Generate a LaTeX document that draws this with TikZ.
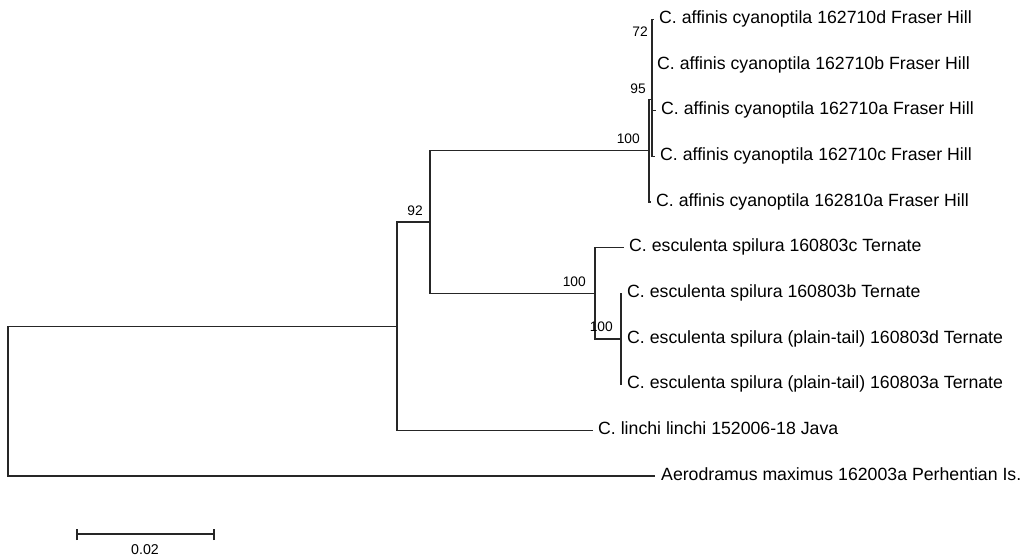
\documentclass[tikz,border=0pt]{standalone}
\usepackage{fontspec}
\newfontfamily\lsans{Liberation Sans}
\begin{document}
\begin{tikzpicture}[x=1pt,y=-1pt,
  branch/.style={line width=1.25pt,draw=black!85},
  leaf/.style={anchor=base west,inner sep=0pt,font=\lsans\fontsize{17.7pt}{20pt}\selectfont},
  boot/.style={anchor=base east,inner sep=0pt,font=\lsans\fontsize{13.8pt}{16pt}\selectfont},
  scalelbl/.style={anchor=base,inner sep=0pt,font=\lsans\fontsize{14.2pt}{16pt}\selectfont}]
\useasboundingbox (0,0) rectangle (1031,556);
% tips
\coordinate (tD) at (654,19.5);
\coordinate (tB) at (652,65.2);
\coordinate (tA) at (656,110.8);
\coordinate (tC) at (655,156.5);
\coordinate (tE) at (651,202.1);
\coordinate (sC) at (624,247.8);
\coordinate (sB) at (622,293.4);
\coordinate (sD) at (622,339.1);
\coordinate (sA) at (622,384.7);
\coordinate (tL) at (593,430.4);
\coordinate (tX) at (655,476);
% internal nodes
\coordinate (n72) at (652,42.3);
\coordinate (n95) at (652,99.4);
\coordinate (n100a) at (649,150.8);
\coordinate (n100c) at (621,339.1);
\coordinate (n100b) at (595,293.4);
\coordinate (nA) at (430,222.1);
\coordinate (n92) at (397,326.2);
\coordinate (root) at (8,401);
% branches
\draw[branch] (root) |- (n92);
\draw[branch] (root) |- (tX);
\draw[branch] (n92) |- (nA);
\draw[branch] (n92) |- (tL);
\draw[branch] (nA) |- (n100a);
\draw[branch] (nA) |- (n100b);
\draw[branch] (n100a) |- (n95);
\draw[branch] (n100a) |- (tE);
\draw[branch] (n95) |- (n72);
\draw[branch] (n95) |- (tA);
\draw[branch] (n95) |- (tC);
\draw[branch] (n72) |- (tD);
\draw[branch] (n72) |- (tB);
\draw[branch] (n100b) |- (sC);
\draw[branch] (n100b) |- (n100c);
\draw[branch] (n100c) |- (sB);
\draw[branch] (n100c) |- (sD);
\draw[branch] (n100c) |- (sA);
% leaf labels
\node[leaf] (lD) at (659,23.5) {C. affinis cyanoptila 162710d Fraser Hill};
\node[leaf] (lB) at (657,69.2) {C. affinis cyanoptila 162710b Fraser Hill};
\node[leaf] (lA) at (661,114.8) {C. affinis cyanoptila 162710a Fraser Hill};
\node[leaf] (lC) at (660,160.5) {C. affinis cyanoptila 162710c Fraser Hill};
\node[leaf] (lE) at (656,206.1) {C. affinis cyanoptila 162810a Fraser Hill};
\node[leaf] (mC) at (629,251.8) {C. esculenta spilura 160803c Ternate};
\node[leaf] (mB) at (627,297.4) {C. esculenta spilura 160803b Ternate};
\node[leaf] (mD) at (627,343.1) {C. esculenta spilura (plain-tail) 160803d Ternate};
\node[leaf] (mA) at (627,388.7) {C. esculenta spilura (plain-tail) 160803a Ternate};
\node[leaf] (lL) at (598,434.4) {C. linchi linchi 152006-18 Java};
\node[leaf] (lX) at (661,480) {Aerodramus maximus 162003a Perhentian Is.};
% bootstrap values
\node[boot] (b72) at (648,37) {72};
\node[boot] (b95) at (646,94) {95};
\node[boot] (b100a) at (640,144) {100};
\node[boot] (b92) at (423,216) {92};
\node[boot] (b100b) at (586,287) {100};
\node[boot] (b100c) at (613,331) {100};
% scale bar
\coordinate (sbL) at (77,534);
\coordinate (sbR) at (214,534);
\draw[branch] (sbL) -- (sbR);
\draw[branch] ([yshift=-6pt]sbL) -- ([yshift=5pt]sbL);
\draw[branch] ([yshift=-6pt]sbR) -- ([yshift=5pt]sbR);
\node[scalelbl] (sbT) at (145,554) {0.02};
\end{tikzpicture}
\end{document}
